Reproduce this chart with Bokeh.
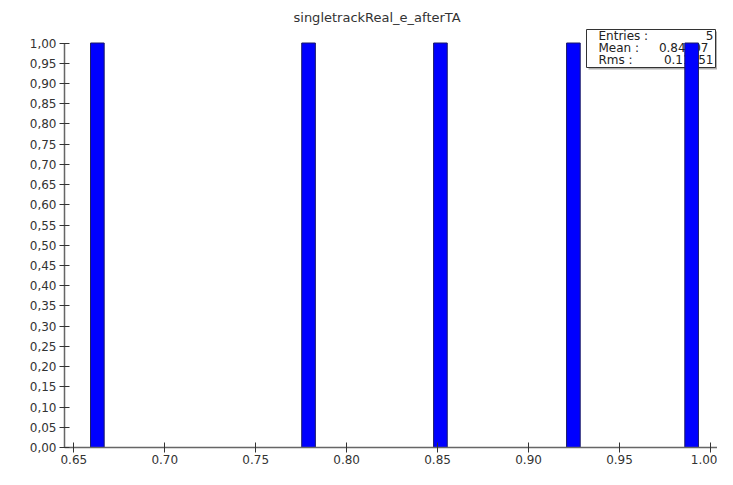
from bokeh.plotting import figure
from bokeh.models import Range1d, FixedTicker, CustomJSTickFormatter, ColumnDataSource
from bokeh.core.properties import value
from bokeh.embed import file_html
from bokeh.resources import INLINE

# ---- data (histogram of 5 entries) ----
bin_left = [0.6592, 0.7753, 0.8478, 0.9209, 0.9859]
bin_width = 0.0075
counts = [1, 1, 1, 1, 1]
stat_names = ["Entries :", "Mean :", "Rms :"]
stat_values = ["5", "0.84107", "0.11451"]
x_ticks = [0.65, 0.70, 0.75, 0.80, 0.85, 0.90, 0.95, 1.00]
y_ticks = [round(i * 0.05, 2) for i in range(21)]
title_text = "singletrackReal_e_afterTA"

# ---- layout ----
W, H = 717, 469
LEFT, TOP, BOTTOM = 64, 26, 22
frame_w = W - LEFT
frame_h = H - TOP - BOTTOM
x_px_per_unit = 1819.0
x0 = 0.65 - (73.3 - LEFT) / x_px_per_unit
x1 = x0 + frame_w / x_px_per_unit
y_top_px = 42.5 - TOP           # pixel of y=1 inside frame
y_px_per_unit = (frame_h - y_top_px) / 1.0
y1 = 1.0 + y_top_px / y_px_per_unit

def px_x(cx):
    return x0 + (cx - LEFT) / x_px_per_unit

def px_y(cy):
    return (TOP + frame_h - cy) / y_px_per_unit

FONT = "DejaVu Sans"

p = figure(width=W, height=H, output_backend="svg", toolbar_location=None,
           x_range=Range1d(x0, x1), y_range=Range1d(0, y1),
           min_border_left=LEFT, min_border_right=0, min_border_top=TOP,
           min_border_bottom=BOTTOM)
p.title.text = title_text
p.title.align = "left"
p.title.offset = 229
p.title.text_font = FONT
p.title.text_font_size = "13px"
p.title.text_font_style = "normal"
p.title.text_color = "#333333"
p.title.standoff = 4

p.outline_line_color = None
p.grid.visible = False
p.background_fill_color = "white"
p.border_fill_color = "white"

# stats box (drawn first so bars paint over it)
bl, br = px_x(586), px_x(715)
bt, bb = px_y(29), px_y(67)
p.quad(left=[bl + 2 / x_px_per_unit], right=[br + 2 / x_px_per_unit],
       top=[bt - 2 / y_px_per_unit], bottom=[bb - 2 / y_px_per_unit],
       fill_color="#b0b0b0", line_color=None)
p.quad(left=[bl], right=[br], top=[bt], bottom=[bb], fill_color="white",
       line_color="#333333", line_width=1)
rows_y = [px_y(35), px_y(47.3), px_y(59.3)]
p.text(x=[px_x(598)] * 3, y=rows_y, text=stat_names, text_font=value(FONT),
       text_font_size="12px", text_baseline="middle", text_align="left", text_color="#222222")
p.text(x=[px_x(713), px_x(708), px_x(713)], y=rows_y, text=stat_values, text_font=value(FONT),
       text_font_size="12px", text_baseline="middle", text_align="right", text_color="#222222")

# histogram bars
src = ColumnDataSource(dict(left=bin_left,
                            right=[l + bin_width for l in bin_left],
                            top=counts))
p.quad(left="left", right="right", top="top", bottom=0, source=src,
       fill_color="#0000ff", line_color="#1a1a66", line_width=1)

# axes
for ax in (p.xaxis[0], p.yaxis[0]):
    ax.axis_line_color = "#666666"
    ax.axis_line_width = 1.5
    ax.major_tick_line_color = "#333333"
    ax.major_tick_in = 5
    ax.major_tick_out = 5
    ax.minor_tick_line_color = None
    ax.major_label_text_font = FONT
    ax.major_label_text_font_size = "12px"
    ax.major_label_text_color = "#333333"
    ax.major_label_standoff = 3

p.xaxis.major_label_standoff = 2
p.xaxis.ticker = FixedTicker(ticks=x_ticks)
p.xaxis.formatter = CustomJSTickFormatter(code="return tick.toFixed(2);")
p.yaxis.ticker = FixedTicker(ticks=y_ticks)
p.yaxis.formatter = CustomJSTickFormatter(code="return tick.toFixed(2).replace('.', ',');")
p.yaxis.bounds = (0, 1)

open("out.html", "w").write(file_html(p, INLINE))
